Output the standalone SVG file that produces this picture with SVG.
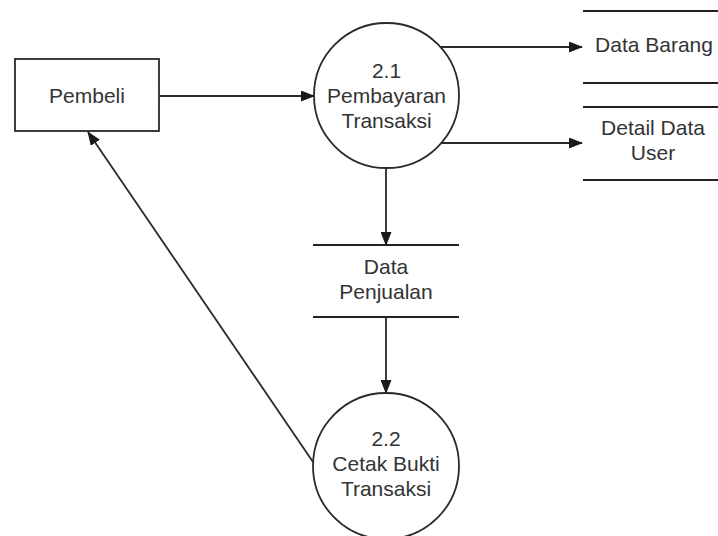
<svg xmlns="http://www.w3.org/2000/svg" width="718" height="536" viewBox="0 0 718 536">
  <style>
    .shape { fill: #ffffff; stroke: #2a2a2a; stroke-width: 1.8; }
    .store { stroke: #222222; stroke-width: 2; fill: none; }
    .flow { stroke: #2a2a2a; stroke-width: 1.8; fill: none; marker-end: url(#arrow); }
    .label { font-family: "Liberation Sans", Arial, sans-serif; font-size: 21px; fill: #333333; text-anchor: middle; }
  </style>
  <defs>
    <marker id="arrow" markerWidth="14" markerHeight="11" refX="13" refY="5.5" orient="auto" markerUnits="userSpaceOnUse">
      <path d="M0,0 L14,5.5 L0,11 Z" fill="#1a1a1a"/>
    </marker>
  </defs>
  <rect width="718" height="536" fill="#ffffff"/>

  <g id="connectors">
    <line class="flow" x1="159" y1="96" x2="314" y2="96"/>
    <line class="flow" x1="440" y1="47" x2="582" y2="47"/>
    <line class="flow" x1="441" y1="143" x2="582" y2="143"/>
    <line class="flow" x1="386" y1="168" x2="386" y2="245"/>
    <line class="flow" x1="386" y1="317" x2="386" y2="393"/>
    <line class="flow" x1="313" y1="462" x2="88" y2="132"/>
  </g>

  <g id="pembeli">
    <rect class="shape" x="15" y="59" width="144" height="72"/>
    <text class="label" x="87" y="103">Pembeli</text>
  </g>

  <g id="proses-2-1">
    <circle class="shape" cx="386.5" cy="95.5" r="72.5"/>
    <text class="label" x="386.5" y="77.5">2.1</text>
    <text class="label" x="386.5" y="103">Pembayaran</text>
    <text class="label" x="386.5" y="128">Transaksi</text>
  </g>

  <g id="data-barang">
    <line class="store" x1="583" y1="11" x2="718" y2="11"/>
    <line class="store" x1="583" y1="83" x2="718" y2="83"/>
    <text class="label" x="654" y="52">Data Barang</text>
  </g>

  <g id="detail-data-user">
    <line class="store" x1="583" y1="107" x2="718" y2="107"/>
    <line class="store" x1="583" y1="180" x2="718" y2="180"/>
    <text class="label" x="653" y="135">Detail Data</text>
    <text class="label" x="653" y="160">User</text>
  </g>

  <g id="data-penjualan">
    <line class="store" x1="313" y1="245" x2="459" y2="245"/>
    <line class="store" x1="313" y1="317" x2="459" y2="317"/>
    <text class="label" x="386" y="274">Data</text>
    <text class="label" x="386" y="299">Penjualan</text>
  </g>

  <g id="proses-2-2">
    <circle class="shape" cx="386" cy="466" r="73"/>
    <text class="label" x="386" y="446">2.2</text>
    <text class="label" x="386" y="471">Cetak Bukti</text>
    <text class="label" x="386" y="496">Transaksi</text>
  </g>
</svg>
